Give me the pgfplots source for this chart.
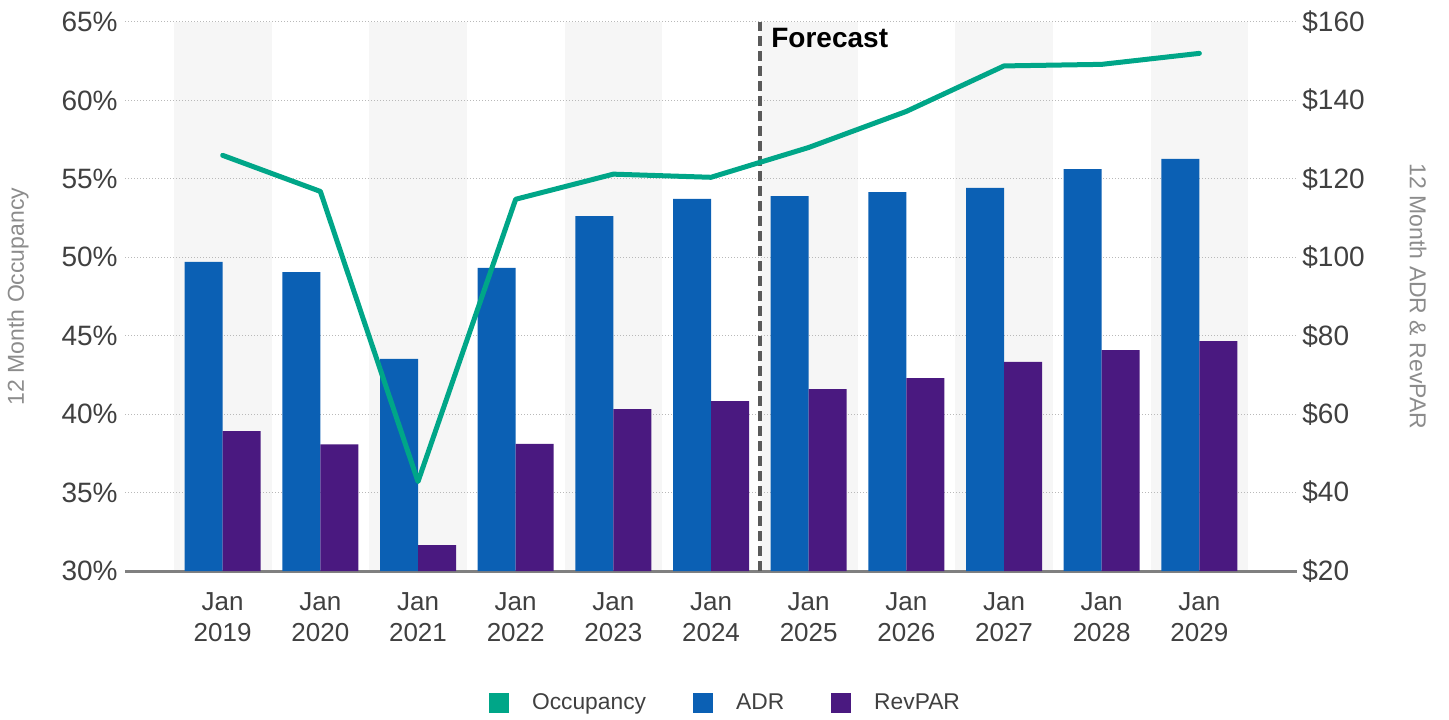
\documentclass[border=0pt]{standalone}
\usepackage{pgfplots}
\pgfplotsset{compat=1.18}
\usepackage{fontspec}
\setmainfont{Liberation Sans}
\definecolor{occgreen}{RGB}{0,166,136}
\definecolor{adrblue}{RGB}{11,96,180}
\definecolor{revpurple}{RGB}{74,25,128}
\definecolor{bandgray}{RGB}{246,246,246}
\definecolor{gridgray}{RGB}{185,185,185}
\definecolor{basegray}{RGB}{128,128,128}
\definecolor{ticktext}{RGB}{64,64,64}
\definecolor{labelgray}{RGB}{140,140,140}
\definecolor{dashgray}{RGB}{90,90,90}
\begin{document}
\begin{tikzpicture}
\pgfplotsset{
  base/.style={scale only axis, width=586pt, height=274.5pt,
    at={(62.5pt,74pt)}, anchor=south west, xmin=-1, xmax=11,
    clip mode=individual},
}
% background bands
\begin{axis}[base, ymin=20, ymax=160, hide axis]
\fill[bandgray] (axis cs:-0.5,20) rectangle (axis cs:0.5,160);
\fill[bandgray] (axis cs:1.5,20) rectangle (axis cs:2.5,160);
\fill[bandgray] (axis cs:3.5,20) rectangle (axis cs:4.5,160);
\fill[bandgray] (axis cs:5.5,20) rectangle (axis cs:6.5,160);
\fill[bandgray] (axis cs:7.5,20) rectangle (axis cs:8.5,160);
\fill[bandgray] (axis cs:9.5,20) rectangle (axis cs:10.5,160);
\end{axis}
% bars (right axis)
\begin{axis}[base, ymin=20, ymax=160,
  axis y line*=right, axis x line*=bottom,
  y axis line style={draw=none},
  x axis line style={draw=basegray, line width=1.5pt, -},
  major tick length=0pt,
  ytick={20,40,60,80,100,120,140,160},
  yticklabels={\$20,\$40,\$60,\$80,\$100,\$120,\$140,\$160},
  ymajorgrids, grid style={gridgray, line width=0.5pt, dash pattern=on 0.5pt off 1pt},
  yticklabel style={anchor=west, inner sep=0pt, xshift=2.5pt, font=\fontsize{14}{16}\selectfont, text=ticktext},
  xtick={0,1,2,3,4,5,6,7,8,9,10},
  xticklabels={{Jan\\2019},{Jan\\2020},{Jan\\2021},{Jan\\2022},{Jan\\2023},{Jan\\2024},{Jan\\2025},{Jan\\2026},{Jan\\2027},{Jan\\2028},{Jan\\2029}},
  xticklabel style={anchor=north, inner sep=0pt, yshift=-10.5pt, align=center, font=\fontsize{13}{15.5}\selectfont, text=ticktext},
  legend image code/.code={\fill[#1] (0pt,-5pt) rectangle (10pt,5pt);},
  legend columns=3,
  legend style={draw=none, fill=none, at={(rel axis cs:0.5115,-0.2404)}, anchor=center,
    font=\fontsize{11.4}{13}\selectfont, text=ticktext, nodes={inner sep=0pt},
    /tikz/every odd column/.append style={column sep=11.5pt},
    /tikz/every even column/.append style={column sep=23.5pt}},
]
\addplot[ybar, bar width=19pt, bar shift=-9.5pt, fill=adrblue, draw=none, forget plot]
  coordinates {(0,98.8) (1,96.2) (2,74.1) (3,97.3) (4,110.5) (5,114.9) (6,115.6) (7,116.6) (8,117.7) (9,122.5) (10,125.1)};
\addplot[ybar, bar width=19pt, bar shift=9.5pt, fill=revpurple, draw=none, forget plot]
  coordinates {(0,55.7) (1,52.3) (2,26.6) (3,52.4) (4,61.3) (5,63.3) (6,66.4) (7,69.2) (8,73.3) (9,76.3) (10,78.6)};
\addlegendimage{fill=occgreen, draw=none}
\addlegendentry{Occupancy}
\addlegendimage{fill=adrblue, draw=none}
\addlegendentry{ADR}
\addlegendimage{fill=revpurple, draw=none}
\addlegendentry{RevPAR}
\draw[dashgray, line width=1.8pt, dash pattern=on 5pt off 2.5pt] (axis cs:5.5,20) -- (axis cs:5.5,160);
\node[anchor=base west, inner sep=0pt, font=\bfseries\fontsize{14}{16}\selectfont, text=black] at (axis cs:5.614,153.6) {Forecast};
\node[rotate=-90, anchor=center, font=\fontsize{11.5}{13}\selectfont, text=labelgray] at (rel axis cs:1.1033,0.5) {12 Month ADR \& RevPAR};
\end{axis}
% occupancy line (left axis)
\begin{axis}[base, ymin=30, ymax=65,
  axis y line*=left, hide x axis,
  y axis line style={draw=none},
  major tick length=0pt,
  ytick={30,35,40,45,50,55,60,65},
  yticklabels={30\%,35\%,40\%,45\%,50\%,55\%,60\%,65\%},
  yticklabel style={anchor=east, inner sep=0pt, xshift=-3.5pt, font=\fontsize{14}{16}\selectfont, text=ticktext},
]
\addplot[occgreen, line width=2.5pt, line join=round, line cap=round, mark=none]
  coordinates {(0,56.5) (1,54.2) (2,35.7) (3,53.7) (4,55.3) (5,55.1) (6,57.0) (7,59.3) (8,62.2) (9,62.3) (10,63.0)};
\node[rotate=90, anchor=center, font=\fontsize{11.5}{13}\selectfont, text=labelgray] at (rel axis cs:-0.0913,0.5) {12 Month Occupancy};
\end{axis}
\pgfresetboundingbox
\path[use as bounding box] (0,0) rectangle (724.5pt,359.5pt);
\end{tikzpicture}
\end{document}
